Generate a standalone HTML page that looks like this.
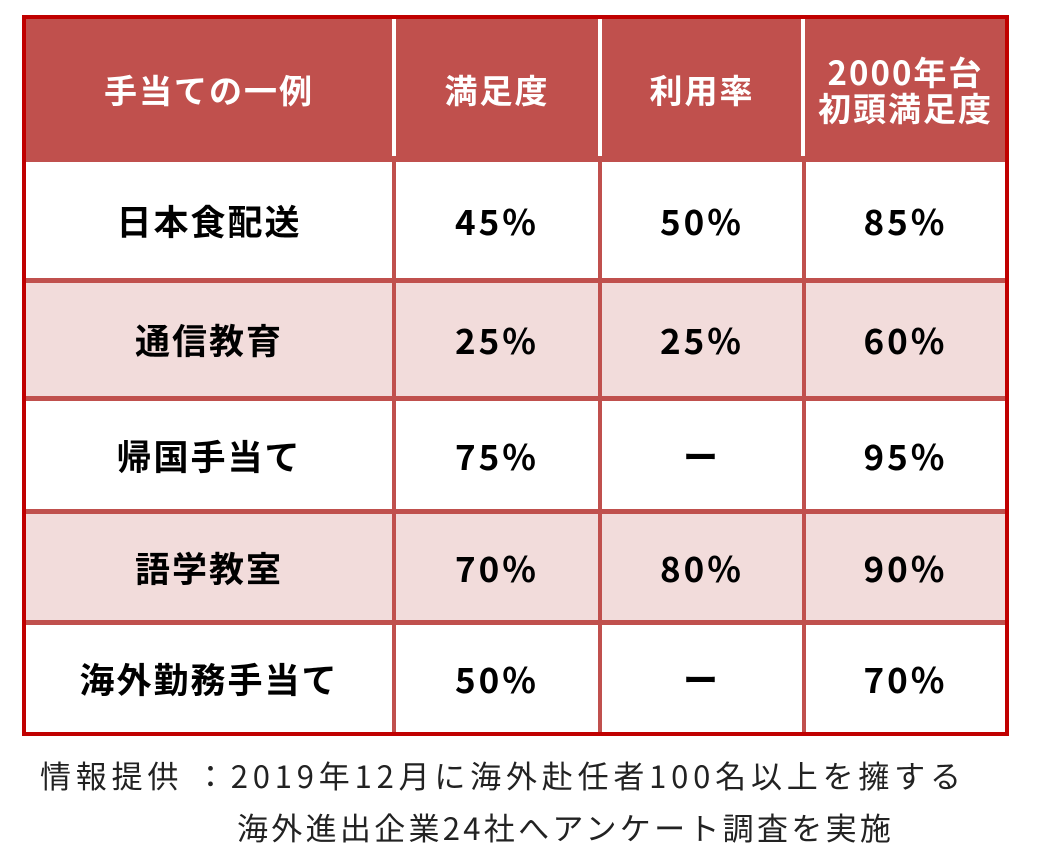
<!DOCTYPE html>
<html><head><meta charset="utf-8"><style>
body{margin:0;width:1047px;height:858px;background:#fff;position:relative;overflow:hidden;font-family:"Noto Sans CJK JP","Liberation Sans",sans-serif}
.a{position:absolute}
.c{position:absolute;display:flex;align-items:center;justify-content:center;text-align:center}
.h{color:#fff;font-size:33px;font-weight:bold;line-height:1.1;letter-spacing:2px}
.b{color:#000;font-size:35px;font-weight:bold;letter-spacing:3px}
.l{letter-spacing:2px}
.t{color:#222;font-size:31px;white-space:nowrap;letter-spacing:4.8px;line-height:1}
</style></head><body>
<div class="a" style="left:22px;top:15px;width:987px;height:721px;background:#c00000"></div>
<div class="a" style="left:26px;top:19px;width:979px;height:713px;background:#fff"></div>
<div class="a" style="left:26px;top:19px;width:979px;height:140px;background:#c0504d"></div>
<div class="a" style="left:26px;top:283px;width:979px;height:115px;background:#f2dcdb"></div>
<div class="a" style="left:26px;top:514px;width:979px;height:108px;background:#f2dcdb"></div>
<div class="a" style="left:26px;top:159px;width:979px;height:3px;background:#c0504d"></div>
<div class="a" style="left:26px;top:278px;width:979px;height:5px;background:#c0504d"></div>
<div class="a" style="left:26px;top:396px;width:979px;height:5px;background:#c0504d"></div>
<div class="a" style="left:26px;top:509px;width:979px;height:5px;background:#c0504d"></div>
<div class="a" style="left:26px;top:620px;width:979px;height:5px;background:#c0504d"></div>
<div class="a" style="left:392px;top:19px;width:4px;height:137px;background:#fff"></div>
<div class="a" style="left:598px;top:19px;width:4px;height:137px;background:#fff"></div>
<div class="a" style="left:801px;top:19px;width:4px;height:137px;background:#fff"></div>
<div class="a" style="left:392px;top:156px;width:4px;height:576px;background:#c0504d"></div>
<div class="a" style="left:598px;top:156px;width:4px;height:576px;background:#c0504d"></div>
<div class="a" style="left:802px;top:156px;width:4px;height:576px;background:#c0504d"></div>
<div class="c h" style="left:26px;top:19px;width:366px;height:140px">手当ての一例</div>
<div class="c h" style="left:396px;top:19px;width:202px;height:140px">満足度</div>
<div class="c h" style="left:602px;top:19px;width:200px;height:140px">利用率</div>
<div class="c h" style="left:806px;top:19px;width:199px;height:140px">2000年台<br>初頭満足度</div>
<div class="c b l" style="left:26px;top:162px;width:366px;height:116px">日本食配送</div>
<div class="c b" style="left:396px;top:162px;width:202px;height:116px">45%</div>
<div class="c b" style="left:602px;top:162px;width:200px;height:116px">50%</div>
<div class="c b" style="left:806px;top:162px;width:199px;height:116px">85%</div>
<div class="c b l" style="left:26px;top:283px;width:366px;height:113px">通信教育</div>
<div class="c b" style="left:396px;top:283px;width:202px;height:113px">25%</div>
<div class="c b" style="left:602px;top:283px;width:200px;height:113px">25%</div>
<div class="c b" style="left:806px;top:283px;width:199px;height:113px">60%</div>
<div class="c b l" style="left:26px;top:401px;width:366px;height:108px">帰国手当て</div>
<div class="c b" style="left:396px;top:401px;width:202px;height:108px">75%</div>
<div class="c b" style="left:602px;top:401px;width:200px;height:108px">ー</div>
<div class="c b" style="left:806px;top:401px;width:199px;height:108px">95%</div>
<div class="c b l" style="left:26px;top:514px;width:366px;height:106px">語学教室</div>
<div class="c b" style="left:396px;top:514px;width:202px;height:106px">70%</div>
<div class="c b" style="left:602px;top:514px;width:200px;height:106px">80%</div>
<div class="c b" style="left:806px;top:514px;width:199px;height:106px">90%</div>
<div class="c b l" style="left:26px;top:625px;width:366px;height:107px">海外勤務手当て</div>
<div class="c b" style="left:396px;top:625px;width:202px;height:107px">50%</div>
<div class="c b" style="left:602px;top:625px;width:200px;height:107px">ー</div>
<div class="c b" style="left:806px;top:625px;width:199px;height:107px">70%</div>
<div class="a t" style="left:40px;top:759px">情報提供 ：2019年12月に海外赴任者100名以上を擁する</div>
<div class="a t" style="left:237px;top:811px;letter-spacing:3.3px">海外進出企業24社へアンケート調査を実施</div>
</body></html>
